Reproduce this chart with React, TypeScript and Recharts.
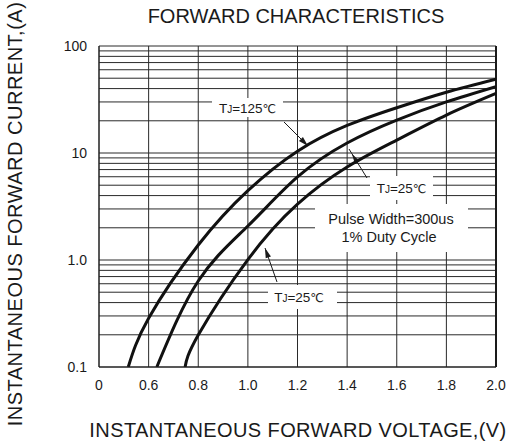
import React from 'react';
import { LineChart, Line, XAxis, YAxis, CartesianGrid, Customized } from 'recharts';

// X axis (forward voltage, V)
const xTicks = [0.4, 0.6, 0.8, 1.0, 1.2, 1.4, 1.6, 1.8, 2.0];
const xTickLabels = ['0', '0.6', '0.8', '1.0', '1.2', '1.4', '1.6', '1.8', '2.0'];

// Y axis (forward current, A) log grid
const yTicks = [
  0.1, 0.2, 0.3, 0.4, 0.5, 0.6, 0.7, 0.8, 0.9,
  1, 2, 3, 4, 5, 6, 7, 8, 9,
  10, 20, 30, 40, 50, 60, 70, 80, 90,
  100,
];
const yTickLabelValues = [0.1, 1, 10, 100];
const yTickLabels = ['0.1', '1.0', '10', '100'];

// Curves
const curveTj125 = [
  { v: 0.518, i: 0.1 },
  { v: 0.6, i: 0.285 },
  { v: 0.8, i: 1.38 },
  { v: 1.0, i: 4.45 },
  { v: 1.2, i: 10.4 },
  { v: 1.4, i: 18.1 },
  { v: 1.6, i: 26.5 },
  { v: 1.8, i: 37 },
  { v: 2.0, i: 49 },
];
const curveMid = [
  { v: 0.633, i: 0.1 },
  { v: 0.8, i: 0.637 },
  { v: 1.0, i: 2.08 },
  { v: 1.2, i: 5.97 },
  { v: 1.4, i: 12.4 },
  { v: 1.6, i: 20.3 },
  { v: 1.8, i: 30 },
  { v: 2.0, i: 41.7 },
];
const curveTj25 = [
  { v: 0.747, i: 0.1 },
  { v: 0.8, i: 0.199 },
  { v: 1.0, i: 1.01 },
  { v: 1.2, i: 3.33 },
  { v: 1.4, i: 7.4 },
  { v: 1.6, i: 13.2 },
  { v: 1.8, i: 22.6 },
  { v: 2.0, i: 36 },
];

const titleText = 'FORWARD CHARACTERISTICS';
const xTitleText = 'INSTANTANEOUS FORWARD VOLTAGE,(V)';
const yTitleText = 'INSTANTANEOUS FORWARD CURRENT,(A)';
const pulseLine1 = 'Pulse Width=300us';
const pulseLine2 = '1% Duty Cycle';

const FONT = '"Liberation Sans", Arial, sans-serif';
const INK = '#1a1a1a';

function arrowHead(sx: number, sy: number, tx: number, ty: number, L = 10, w = 2.8) {
  const dx = tx - sx;
  const dy = ty - sy;
  const len = Math.sqrt(dx * dx + dy * dy);
  const ux = dx / len;
  const uy = dy / len;
  const bx = tx - ux * L;
  const by = ty - uy * L;
  const px = -uy;
  const py = ux;
  return `${tx},${ty} ${bx + px * w},${by + py * w} ${bx - px * w},${by - py * w}`;
}

function TjLabel({ x, y, temp }: { x: number; y: number; temp: string }) {
  return (
    <text x={x} y={y} textAnchor="middle" fontSize={13.5} fill={INK} fontFamily={FONT}>
      T<tspan fontSize={10}>J</tspan>={temp}
      <tspan fontFamily={'"DejaVu Sans", sans-serif'} fontSize={12}>℃</tspan>
    </text>
  );
}

function Annotations() {
  return (
    <g>
      {/* titles */}
      <text x={296} y={23} textAnchor="middle" fontSize={20} fill={INK} fontFamily={FONT}>
        {titleText}
      </text>
      <text
        x={298}
        y={437}
        textAnchor="middle"
        fontSize={20}
        letterSpacing={0.4}
        fill={INK}
        fontFamily={FONT}
      >
        {xTitleText}
      </text>
      <text
        transform="translate(22,214) rotate(-90)"
        textAnchor="middle"
        fontSize={20}
        letterSpacing={0.5}
        fill={INK}
        fontFamily={FONT}
      >
        {yTitleText}
      </text>

      {/* label boxes */}
      <rect x={212} y={98} width={71} height={19} fill="#fff" />
      <rect x={370} y={176} width={63} height={24} fill="#fff" />
      <rect x={315} y={204} width={153} height={48} fill="#fff" />
      <rect x={268} y={285} width={69} height={24} fill="#fff" />

      <TjLabel x={247.5} y={113} temp="125" />
      <TjLabel x={401.5} y={193} temp="25" />
      <TjLabel x={299} y={302} temp="25" />

      <text x={391} y={224} textAnchor="middle" fontSize={14.5} fill={INK} fontFamily={FONT}>
        {pulseLine1}
      </text>
      <text x={389} y={241.5} textAnchor="middle" fontSize={14.5} fill={INK} fontFamily={FONT}>
        {pulseLine2}
      </text>

      {/* arrows */}
      <line x1={284} y1={122} x2={308} y2={146} stroke={INK} strokeWidth={1} />
      <polygon points={arrowHead(284, 122, 308, 146)} fill={INK} />
      <line x1={367} y1={178} x2={349} y2={149} stroke={INK} strokeWidth={1} />
      <polygon points={arrowHead(367, 178, 352, 154)} fill={INK} />
      <line x1={277} y1={282} x2={265} y2={248} stroke={INK} strokeWidth={1} />
      <polygon points={arrowHead(277, 282, 265, 248)} fill={INK} />

      {/* right border emphasis */}
      <line x1={496} y1={46} x2={496} y2={367} stroke={INK} strokeWidth={2} />
    </g>
  );
}

export default function App() {
  return (
    <div style={{ position: 'absolute', left: 0, top: 0, width: 508, height: 442, background: '#fff' }}>
      <LineChart
        width={508}
        height={442}
        margin={{ top: 46, right: 12, bottom: 0, left: 0 }}
        style={{ fontFamily: FONT }}
      >
        <CartesianGrid stroke="#2a2a2a" strokeWidth={1} />
        <XAxis
          type="number"
          dataKey="v"
          domain={[0.4, 2.0]}
          ticks={xTicks}
          interval={0}
          allowDataOverflow
          height={75}
          tickSize={0}
          tickMargin={13}
          axisLine={{ stroke: INK }}
          tickLine={false}
          tick={{ fontSize: 14, fill: INK, fontFamily: FONT }}
          tickFormatter={(val: number) => {
            const idx = xTicks.findIndex((t) => Math.abs(t - val) < 1e-6);
            return idx >= 0 ? xTickLabels[idx] : '';
          }}
        />
        <YAxis
          type="number"
          scale="log"
          domain={[0.1, 100]}
          ticks={yTicks}
          interval={0}
          allowDataOverflow
          width={99}
          tickSize={0}
          tickMargin={12}
          axisLine={{ stroke: INK }}
          tickLine={false}
          tick={{ fontSize: 14, fill: INK, fontFamily: FONT }}
          tickFormatter={(val: number) => {
            const idx = yTickLabelValues.findIndex((t) => Math.abs(t - val) < 1e-9);
            return idx >= 0 ? yTickLabels[idx] : '';
          }}
        />
        <Customized component={Annotations} />
        <Line
          data={curveTj125}
          dataKey="i"
          type="natural"
          stroke="#111"
          strokeWidth={3}
          dot={false}
          isAnimationActive={false}
        />
        <Line
          data={curveMid}
          dataKey="i"
          type="natural"
          stroke="#111"
          strokeWidth={3}
          dot={false}
          isAnimationActive={false}
        />
        <Line
          data={curveTj25}
          dataKey="i"
          type="natural"
          stroke="#111"
          strokeWidth={3}
          dot={false}
          isAnimationActive={false}
        />
      </LineChart>
    </div>
  );
}
